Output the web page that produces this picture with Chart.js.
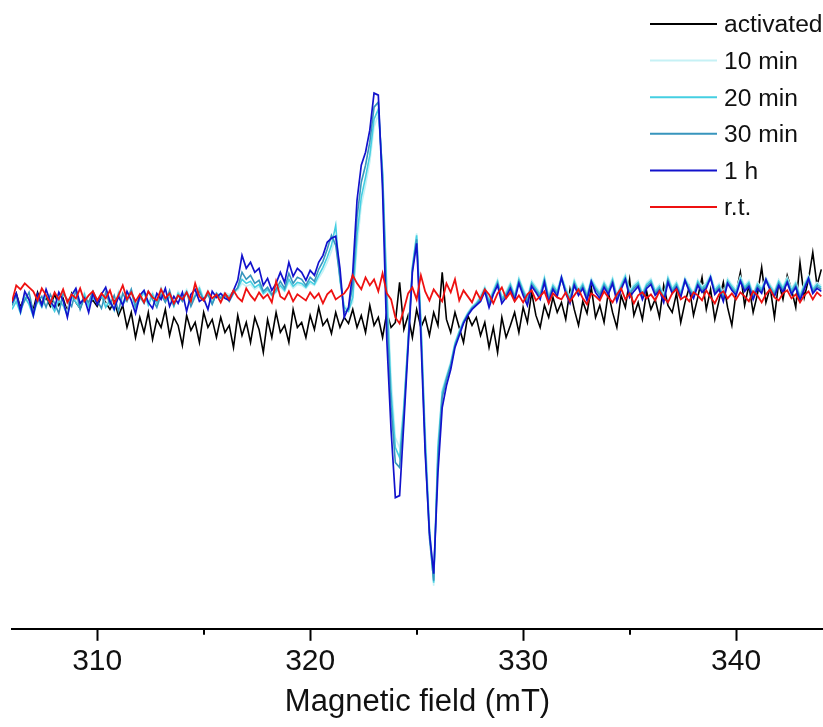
<!DOCTYPE html>
<html><head><meta charset="utf-8">
<script src="https://cdn.jsdelivr.net/npm/chart.js@4.4.0/dist/chart.umd.min.js"></script>
<style>html,body{margin:0;padding:0;background:#fff;}canvas{display:block;}</style>
</head><body>
<canvas id="c" width="823" height="727"></canvas>
<script>
// Magnetic field sampling (mT): 306.0, 306.2, ... 344.0
const fieldStart = 306.0;
const fieldStep = 0.2;
const fieldTicks = [310, 320, 330, 340];
const minorTicks = [315, 325, 335];
const axisTitle = 'Magnetic field (mT)';
const seriesNames = ['activated', '10 min', '20 min', '30 min', '1 h', 'r.t.'];

// EPR intensity (arbitrary units)
const activated = [
 -6, 4, -10, 2, -3, -12, 5, -7, 0, -9,
 3, -8, -1, -14, 4, -5, -11, 2, -6, -3,
 -9, 1, -5, -12, -4, -18, -8, -30, -15, -40,
 -20, -35, -15, -42, -22, -30, -12, -38, -20, -28,
 -48, -18, -33, -25, -45, -15, -30, -22, -40, -20,
 -35, -28, -50, -18, -38, -25, -45, -20, -32, -55,
 -22, -40, -15, -35, -28, -45, -12, -30, -25, -40,
 -18, -32, -10, -28, -22, -36, -15, -30, -20, -26,
 -12, -30, -18, -35, -8, -28, -20, -40, -15, -30,
 -25, 15, -32, -18, -40, -12, -30, -20, -38, -15,
 -28, 25, -22, -35, -15, -30, -45, -18, -28, -20,
 -38, -25, -50, -30, -55, -20, -40, -28, -15, -35,
 -10, -25, 5, -18, -30, -8, -20, 0, -15, -5,
 -22, 8, -12, -28, -4, -16, 10, -20, -8, -25,
 5, -15, -30, 2, -10, 18, -18, -5, -22, 6,
 -12, -2, -20, 12, -8, -15, 4, -25, -5, 10,
 -18, 0, 20, -12, 8, -22, -3, 15, -10, -28,
 5, 25, -8, 12, -15, 3, 30, -5, 10, -20,
 15, -2, 22, 8, -10, 35, 0, 18, 45, 12,
 28
];
const min10 = [
 -10, -2, -13, 2, -5, -16, 0, -8, 4, -4,
 -11, -1, -6, -15, 3, -3, -9, 5, -7, 2,
 -4, 4, -8, -1, -11, 6, -5, 1, 8, -9,
 0, 7, -6, 5, -4, 10, -2, 3, -7, 6,
 1, 8, -3, 4, 11, -1, 7, -4, 5, 2,
 5, 3, 5, 7, 14, 11, 13, 8, 11, 3,
 6, 1, 5, 10, 6, 15, 9, 13, 12, 9,
 14, 12, 19, 26, 35, 46, 60, 15, -8, -12,
 -5, 50, 92, 112, 135, 170, 183, 128, 15, -80,
 -140, -150, -105, -40, 32, 64, -20, -130, -225, -288,
 -145, -92, -78, -64, -45, -33, -23, -15, -9, -5,
 2, 11, -2, 8, 18, 1, 6, 15, 3, 20,
 9, 0, 17, 11, 5, 21, 2, 14, 8, 22,
 10, 1, 18, 8, 15, 4, 19, 12, 6, 16,
 9, 20, 3, 14, 23, 7, 13, 17, 5, 15,
 19, 8, 13, 2, 21, 10, 16, 6, 20, 12,
 5, 18, 11, 15, 23, 9, 14, 3, 19, 13,
 8, 21, 12, 17, 4, 15, 10, 20, 13, 7,
 18, 11, 20, 9, 16, 3, 14, 22, 10, 15,
 12
];
const min20 = [
 -12, -4, -16, 0, -7, -19, -2, -10, 2, -6,
 -14, -3, -8, -18, 1, -5, -11, 3, -9, 0,
 -6, 2, -10, -3, -13, 4, -7, -1, 6, -11,
 -2, 5, -8, 3, -6, 8, -4, 1, -9, 4,
 -1, 6, -5, 2, 9, -3, 5, -6, 3, 0,
 3, 1, 6, 9, 18, 14, 16, 10, 13, 4,
 8, 2, 6, 12, 7, 18, 11, 15, 14, 10,
 16, 13, 22, 30, 40, 52, 72, 18, -10, -14,
 0, 62, 100, 120, 142, 178, 188, 125, 5, -95,
 -150, -160, -110, -42, 30, 62, -25, -140, -232, -285,
 -150, -95, -80, -66, -46, -34, -24, -16, -10, -6,
 0, 9, -4, 6, 16, -1, 4, 13, 1, 18,
 7, -2, 15, 9, 3, 19, 0, 12, 6, 20,
 8, -1, 16, 6, 13, 2, 17, 10, 4, 14,
 7, 18, 1, 12, 21, 5, 11, 15, 3, 13,
 17, 6, 11, 0, 19, 8, 14, 4, 18, 10,
 3, 16, 9, 13, 21, 7, 12, 1, 17, 11,
 6, 19, 10, 15, 2, 13, 8, 18, 11, 5,
 16, 9, 18, 7, 14, 1, 12, 20, 8, 13,
 10
];
const min30 = [
 -8, 2, -12, -3, 5, -15, -4, 1, -10, 3,
 -6, -16, 4, -2, -9, 7, -12, 0, -5, 6,
 -3, -11, 5, -7, 2, -14, 4, -4, 8, -9,
 1, -6, 6, -2, -10, 3, -5, 7, -8, 2,
 -4, 5, -9, 1, 6, -3, 3, -7, 4, -1,
 2, -4, 4, 10, 25, 18, 22, 14, 17, 6,
 10, 3, 8, 16, 9, 24, 14, 20, 18, 12,
 20, 16, 28, 36, 48, 62, 52, 20, -15, -12,
 12, 80, 115, 132, 155, 190, 195, 120, -15, -110,
 -165, -170, -115, -45, 28, 58, -30, -150, -240, -283,
 -160, -100, -82, -68, -48, -36, -25, -17, -11, -7,
 -2, 8, -6, 4, 14, -3, 2, 11, -1, 16,
 5, -4, 13, 7, 1, 17, -2, 10, 4, 18,
 6, -3, 14, 4, 11, 0, 15, 8, 2, 12,
 5, 16, -1, 10, 19, 3, 9, 13, 1, 11,
 15, 4, 9, -2, 17, 6, 12, 2, 16, 8,
 1, 14, 7, 11, 19, 5, 10, -1, 15, 9,
 4, 17, 8, 13, 0, 11, 6, 16, 9, 3,
 14, 7, 16, 5, 12, -1, 10, 18, 6, 11,
 8
];
const hour1 = [
 -5, 4, -14, 6, -2, -18, 3, -8, 8, -4,
 -10, 5, -3, -20, 2, 9, -6, -1, -15, 4,
 -7, 3, 10, -4, -12, 1, -8, 6, -3, -16,
 2, 7, -5, -11, 4, -2, 9, -9, 1, -6,
 5, -14, 3, 8, -4, -1, -12, 6, 0, 4,
 -1, -3, 7, 17, 42, 29, 35, 25, 29, 12,
 19, 7, 14, 25, 15, 35, 21, 29, 25, 17,
 27, 22, 35, 42, 55, 59, 61, 29, -20, -10,
 25, 97, 132, 145, 167, 204, 202, 107, -43, -133,
 -200, -198, -125, -50, 25, 54, -40, -155, -235, -276,
 -175, -110, -88, -72, -50, -38, -26, -18, -12, -8,
 -4, 6, -10, 3, 12, -6, 0, 9, -3, 14,
 2, -8, 11, 5, -2, 15, -5, 8, 1, 20,
 4, -6, 12, 2, 9, -3, 16, 5, -1, 10,
 3, 14, -4, 8, 18, 0, 6, 11, -2, 9,
 13, 2, 7, -5, 15, 4, 10, 0, 17, 6,
 -1, 12, 5, 9, 20, 3, 8, -4, 14, 7,
 2, 16, 6, 11, -2, 9, 4, 18, 7, 1,
 12, 5, 15, 3, 10, -3, 8, 19, 4, 9,
 6
];
const roomTemp = [
 -4, 12, 8, 14, 10, 6, -3, 9, 2, -6,
 5, -2, 8, -5, 3, -1, 9, -4, 2, 6,
 -3, 4, -1, 7, -6, 2, 12, -2, 5, -4,
 3, -5, 6, 0, -3, 8, -1, 4, -6, 2,
 -2, 5, -4, 14, 1, -3, 6, -1, 3, -5,
 4, -2, 7, 0, -4, 9, 2, -3, 5, -1,
 3, -5, 16, 1, -2, 6, -4, 3, 0, -3,
 5, -1, 4, -6, 3, 7, -2, 1, 4, 10,
 22, 14, 8, 20, 12, 18, 6, 24, 4, -2,
 -20, -26, -12, 4, 10, -2, 22, 6, -3, 8,
 2, -4, 14, 5, 18, -3, 7, 1, -5, 6,
 -2, 8, 3, -6, 4, 10, -1, 5, -4, 2,
 -5, 3, 7, -3, 1, 6, -6, 4, 0, -2,
 5, -4, 2, 8, -1, -7, 4, 1, -3, 6,
 0, -5, 3, 9, -2, 4, -6, 2, 5, -1,
 3, -3, 6, 0, -5, 4, 8, -2, 1, -4,
 5, 2, -3, 7, 0, -6, 3, 6, -1, 4,
 -2, 5, 1, -4, 6, 2, -5, 3, 8, 0,
 -3, 4, 7, -1, 3, -5, 2, 6, -2, 5,
 1
];

const field = activated.map((_, i) => +(fieldStart + i * fieldStep).toFixed(1));
const seriesValues = [activated, min10, min20, min30, hour1, roomTemp];
const seriesColors = ['#000000', '#c6f1f5', '#45cfe2', '#3795bd', '#1212cc', '#ee1111'];
const seriesWidths = [1.6, 1.6, 1.6, 1.6, 1.7, 1.8];
const seriesOrder = [5, 4, 3, 2, 1, 0];

const datasets = seriesNames.map((name, k) => ({
  label: name,
  data: field.map((x, i) => ({ x: x, y: seriesValues[k][i] })),
  borderColor: seriesColors[k],
  backgroundColor: seriesColors[k],
  borderWidth: seriesWidths[k],
  pointRadius: 0,
  tension: 0,
  fill: false,
  order: seriesOrder[k]
}));

const extras = {
  id: 'extras',
  afterDraw(chart) {
    const ctx = chart.ctx;
    const xs = chart.scales.x;
    ctx.save();
    // minor ticks
    ctx.strokeStyle = '#000';
    ctx.lineWidth = 2;
    minorTicks.forEach(v => {
      const px = Math.round(xs.getPixelForValue(v));
      ctx.beginPath();
      ctx.moveTo(px, xs.top);
      ctx.lineTo(px, xs.top + 6);
      ctx.stroke();
    });
    // legend
    ctx.font = '23px "Liberation Sans", Arial, sans-serif';
    ctx.textBaseline = 'middle';
    ctx.textAlign = 'left';
    seriesNames.forEach((name, k) => {
      const y = 24 + k * 36.6;
      ctx.strokeStyle = seriesColors[k];
      ctx.lineWidth = 2;
      ctx.beginPath();
      ctx.moveTo(650, y);
      ctx.lineTo(717, y);
      ctx.stroke();
      ctx.save();
      ctx.translate(724, y + 2);
      ctx.scale(1.07, 1);
      ctx.fillStyle = '#111';
      ctx.fillText(name, 0, 0);
      ctx.restore();
    });
    ctx.restore();
  }
};

new Chart(document.getElementById('c'), {
  type: 'line',
  data: { datasets: datasets },
  options: {
    responsive: false,
    animation: false,
    devicePixelRatio: 1,
    layout: { padding: { left: 12, right: 0, top: 0, bottom: 6 } },
    plugins: { legend: { display: false }, tooltip: { enabled: false } },
    scales: {
      x: {
        type: 'linear',
        min: 306,
        max: 344.08,
        afterBuildTicks: (scale) => { scale.ticks = fieldTicks.map(v => ({ value: v })); },
        border: { display: true, color: '#000', width: 2 },
        grid: { drawOnChartArea: false, drawTicks: true, tickLength: 12, tickColor: '#000', tickWidth: 2 },
        ticks: {
          color: '#111',
          padding: 3,
          maxRotation: 0,
          autoSkip: false,
          font: { family: '"Liberation Sans", Arial, sans-serif', size: 30, lineHeight: 1.2 }
        },
        title: {
          display: true,
          text: axisTitle,
          color: '#111',
          padding: { top: 1, bottom: 0 },
          font: { family: '"Liberation Sans", Arial, sans-serif', size: 31, lineHeight: 1.2 }
        }
      },
      y: { display: false, min: -331, max: 297 }
    }
  },
  plugins: [extras]
});
</script>
</body></html>
